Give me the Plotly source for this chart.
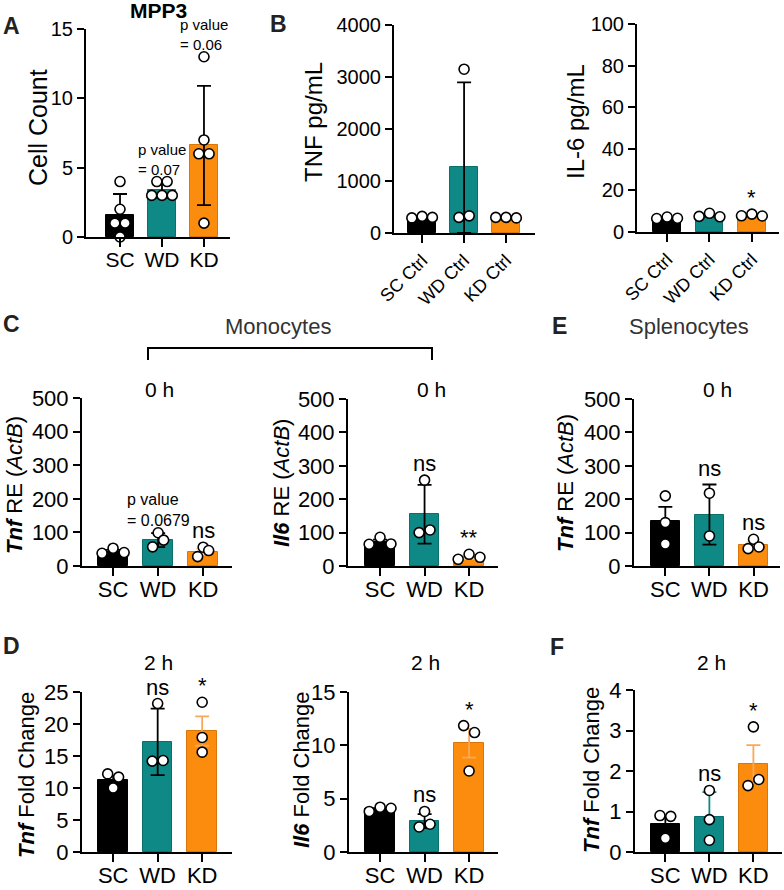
import plotly.graph_objects as go

W, H = 784, 890
FONT = "Arial, Liberation Sans, Helvetica, sans-serif"

GROUPS = ["SC", "WD", "KD"]
CTRL_GROUPS = ["SC Ctrl", "WD Ctrl", "KD Ctrl"]
BAR_COLORS = ["#000000", "#0f8985", "#fb8c0e"]
BAR_EDGES = ["#000000", "#0b6f6c", "#d9760a"]

# A - MPP3 cell count (mean, error, individual animals)
mpp3_mean = [1.6, 3.4, 6.6]
mpp3_err = [1.5, 0.55, 4.3]
mpp3_pts = [[4, 2, 1, 1, 0], [4, 4, 3, 3, 3], [13, 7, 6, 6, 1]]

# B - serum cytokines
tnf_ctrl_mean = [300, 1260, 295]
tnf_ctrl_err = [15, 1637, 8]
tnf_ctrl_pts = [[290, 320, 300], [300, 3150, 330], [300, 300, 290]]

il6_ctrl_mean = [6.8, 7.9, 8.0]
il6_ctrl_err = [0.3, 0.5, 0.3]
il6_ctrl_pts = [[6.5, 7.2, 6.6], [7.5, 9.0, 7.3], [7.8, 8.6, 7.7]]

# C - monocytes 0 h
tnf_mono0_mean = [43, 77, 43]
tnf_mono0_err = [5, 21, 8]
tnf_mono0_pts = [[38, 53, 40], [99, 57, 77], [56, 28, 46]]

il6_mono0_mean = [72, 155, 27]
il6_mono0_err = [7, 88, 5]
il6_mono0_pts = [[65, 86, 66], [100, 257, 108], [20, 35, 26]]

# E - splenocytes 0 h
tnf_spl0_mean = [136, 154, 62]
tnf_spl0_err = [41, 90, 11]
tnf_spl0_pts = [[210, 130, 66], [218, 90], [80, 52, 57]]

# D - monocytes 2 h
tnf_mono2_mean = [11.3, 17.2, 18.9]
tnf_mono2_err = [0.6, 5.2, 2.3]
tnf_mono2_pts = [[12.2, 10.0, 11.7], [14.2, 23.2, 14.3], [23.4, 17.9, 15.6]]

il6_mono2_mean = [4.0, 2.9, 10.2]
il6_mono2_err = [0.1, 0.65, 1.35]
il6_mono2_pts = [[3.8, 4.2, 4.1], [2.35, 3.8, 2.6], [11.85, 7.6, 11.2]]

# F - splenocytes 2 h
tnf_spl2_mean = [0.70, 0.86, 2.17]
tnf_spl2_err = [0.2, 0.62, 0.47]
tnf_spl2_pts = [[0.9, 0.34, 0.88], [0.29, 0.8, 1.52], [1.64, 3.09, 1.79]]

PANELS = [
    dict(mean=mpp3_mean, err=mpp3_err, pts=mpp3_pts, labels=GROUPS,
         xpx=(86, 230), ypx=(29, 237), ymax=15, dtick=5, xr=(-0.81, 2.62),
         tick_size=20, xtick_size=21, angle=0, err_colors=["#000", "#000", "#000"],
         sig=[None, "p value<br>= 0.07", "p value<br>= 0.06"], sig_size=22, p_size=15,
         ytitle="Cell Count", ytitle_xy=(38, 128), ytitle_size=25),
    dict(mean=tnf_ctrl_mean, err=tnf_ctrl_err, pts=tnf_ctrl_pts, labels=CTRL_GROUPS,
         xpx=(394, 535), ypx=(25, 233), ymax=4000, dtick=1000, xr=(-0.67, 2.69),
         tick_size=20, xtick_size=18, angle=-45, err_colors=["#000", "#000", "#000"],
         sig=[None, None, None], sig_size=22, p_size=15,
         ytitle="TNF pg/mL", ytitle_xy=(314, 122), ytitle_size=24),
    dict(mean=il6_ctrl_mean, err=il6_ctrl_err, pts=il6_ctrl_pts, labels=CTRL_GROUPS,
         xpx=(637, 779), ypx=(24, 232), ymax=100, dtick=20, xr=(-0.71, 2.64),
         tick_size=20, xtick_size=18, angle=-45, err_colors=["#000", "#000", "#000"],
         sig=[None, None, "*"], sig_size=22, p_size=15,
         ytitle="IL-6 pg/mL", ytitle_xy=(576, 122), ytitle_size=24),
    dict(mean=tnf_mono0_mean, err=tnf_mono0_err, pts=tnf_mono0_pts, labels=GROUPS,
         xpx=(82, 232), ypx=(398, 566), ymax=500, dtick=100, xr=(-0.69, 2.64),
         tick_size=22, xtick_size=22, angle=0, err_colors=["#000", "#000", "#ffd9b0"],
         sig=[None, "p value<br>= 0.0679", "ns"], sig_size=22, p_size=16,
         ytitle="<b><i>Tnf</i></b> RE (<i>ActB</i>)", ytitle_xy=(14, 485), ytitle_size=22),
    dict(mean=il6_mono0_mean, err=il6_mono0_err, pts=il6_mono0_pts, labels=GROUPS,
         xpx=(348, 498), ypx=(399, 566), ymax=500, dtick=100, xr=(-0.72, 2.65),
         tick_size=22, xtick_size=22, angle=0, err_colors=["#000", "#000", "#ffd9b0"],
         sig=[None, "ns", "**"], sig_size=22, p_size=16,
         ytitle="<b><i>Il6</i></b> RE (<i>ActB</i>)", ytitle_xy=(281, 483), ytitle_size=22),
    dict(mean=tnf_spl0_mean, err=tnf_spl0_err, pts=tnf_spl0_pts, labels=GROUPS,
         xpx=(634, 780), ypx=(399, 566), ymax=500, dtick=100, xr=(-0.71, 2.6),
         tick_size=22, xtick_size=22, angle=0, err_colors=["#000", "#000", "#ffd9b0"],
         sig=[None, "ns", "ns"], sig_size=22, p_size=16,
         ytitle="<b><i>Tnf</i></b> RE (<i>ActB</i>)", ytitle_xy=(565, 483), ytitle_size=22),
    dict(mean=tnf_mono2_mean, err=tnf_mono2_err, pts=tnf_mono2_pts, labels=GROUPS,
         xpx=(82, 232), ypx=(692, 852), ymax=25, dtick=5, xr=(-0.7, 2.67),
         tick_size=22, xtick_size=22, angle=0, err_colors=["#000", "#000", "#f9a85a"],
         sig=[None, "ns", "*"], sig_size=22, p_size=16,
         ytitle="<b><i>Tnf</i></b> Fold Change", ytitle_xy=(26, 775), ytitle_size=22),
    dict(mean=il6_mono2_mean, err=il6_mono2_err, pts=il6_mono2_pts, labels=GROUPS,
         xpx=(349, 498), ypx=(692, 852), ymax=15, dtick=5, xr=(-0.7, 2.65),
         tick_size=22, xtick_size=22, angle=0, err_colors=["#000", "#000", "#f9a85a"],
         sig=[None, "ns", "*"], sig_size=22, p_size=16,
         ytitle="<b><i>Il6</i></b> Fold Change", ytitle_xy=(301, 770), ytitle_size=22),
    dict(mean=tnf_spl2_mean, err=tnf_spl2_err, pts=tnf_spl2_pts, labels=GROUPS,
         xpx=(635, 782), ypx=(690, 852), ymax=4, dtick=1, xr=(-0.69, 2.65),
         tick_size=22, xtick_size=22, angle=0, err_colors=["#000", "#0f8985", "#f9a85a"],
         sig=[None, "ns", "*"], sig_size=22, p_size=16,
         ytitle="<b><i>Tnf</i></b> Fold Change", ytitle_xy=(591, 770), ytitle_size=22),
]

# free text: (text, x px, y px, size, bold, color)
LABELS = [
    ("A", 11, 26, 23, True, "#222"), ("B", 278, 24, 23, True, "#222"),
    ("C", 11, 324, 23, True, "#222"), ("E", 559, 326, 23, True, "#222"),
    ("D", 11, 646, 23, True, "#222"), ("F", 557, 647, 23, True, "#222"),
    ("MPP3", 158, 11, 21, True, "#000"),
    ("Monocytes", 278, 326, 22, False, "#333"),
    ("Splenocytes", 689, 326, 22, False, "#333"),
    ("0 h", 159, 390, 21, False, "#000"), ("0 h", 432, 390, 21, False, "#000"),
    ("0 h", 717, 390, 21, False, "#000"),
    ("2 h", 158, 662, 21, False, "#000"), ("2 h", 425, 662, 21, False, "#000"),
    ("2 h", 711, 662, 21, False, "#000"),
]


def px_x(v):
    return v / W


def px_y(v):
    return 1 - v / H


def swarm(vals, px_per_unit, spacing=0.245, diam=9):
    """Spread points that would overlap side by side, keeping the list order."""
    order = sorted(range(len(vals)), key=lambda k: vals[k])
    clusters, cur = [], [order[0]]
    for k in order[1:]:
        if (vals[k] - vals[cur[0]]) * px_per_unit < diam:
            cur.append(k)
        else:
            clusters.append(cur)
            cur = [k]
    clusters.append(cur)
    offs = [0.0] * len(vals)
    for c in clusters:
        c = sorted(c)
        for j, k in enumerate(c):
            offs[k] = (j - (len(c) - 1) / 2) * spacing
    return offs


fig = go.Figure()
annotations = []

for i, p in enumerate(PANELS, start=1):
    xa = "x" if i == 1 else f"x{i}"
    ya = "y" if i == 1 else f"y{i}"
    px_per_unit = (p["ypx"][1] - p["ypx"][0]) / p["ymax"]

    for g in range(3):
        m, e = p["mean"][g], p["err"][g]
        fig.add_trace(go.Bar(
            x=[g], y=[m], width=0.66, xaxis=xa, yaxis=ya,
            marker=dict(color=BAR_COLORS[g], line=dict(color=BAR_EDGES[g], width=1)),
            error_y=dict(type="data", array=[e], arrayminus=[min(e, m)],
                         color=p["err_colors"][g], thickness=1.8, width=7),
            showlegend=False, hoverinfo="skip",
        ))
        vals = p["pts"][g]
        offs = swarm(vals, px_per_unit)
        fig.add_trace(go.Scatter(
            x=[g + o for o in offs], y=vals, mode="markers", xaxis=xa, yaxis=ya,
            marker=dict(size=10, color="white", line=dict(color="black", width=1.6)),
            cliponaxis=False, showlegend=False, hoverinfo="skip",
        ))
        label = p["sig"][g]
        if label:
            top = max(max(vals), m + e)
            size = p["p_size"] if label.startswith("p value") else p["sig_size"]
            annotations.append(dict(
                x=g, y=top, xref=xa, yref=ya, text=label, showarrow=False,
                yanchor="bottom", yshift=2, align="left",
                font=dict(family=FONT, size=size, color="black"),
            ))

    axis_common = dict(showline=True, linewidth=2, linecolor="black", ticks="outside",
                       tickwidth=2, tickcolor="black", showgrid=False, zeroline=False,
                       automargin=False)
    fig.layout[f"xaxis{'' if i == 1 else i}"] = dict(
        axis_common, domain=[px_x(p["xpx"][0]), px_x(p["xpx"][1])], anchor=ya,
        range=list(p["xr"]), tickvals=[0, 1, 2], ticktext=p["labels"], ticklen=8,
        ticklabelstandoff=-5 if p["angle"] == 0 else 0,
        tickangle=p["angle"], tickfont=dict(family=FONT, size=p["xtick_size"], color="black"),
    )
    fig.layout[f"yaxis{'' if i == 1 else i}"] = dict(
        axis_common, domain=[px_y(p["ypx"][1]), px_y(p["ypx"][0])], anchor=xa,
        range=[0, p["ymax"]], dtick=p["dtick"], tick0=0, ticklen=7,
        tickfont=dict(family=FONT, size=p["tick_size"], color="black"),
    )
    tx, ty = p["ytitle_xy"]
    annotations.append(dict(
        x=px_x(tx), y=px_y(ty), xref="paper", yref="paper", text=p["ytitle"],
        textangle=-90, showarrow=False, xanchor="center", yanchor="middle",
        font=dict(family=FONT, size=p["ytitle_size"], color="black"),
    ))

for text, x, y, size, bold, color in LABELS:
    annotations.append(dict(
        x=px_x(x), y=px_y(y), xref="paper", yref="paper",
        text=f"<b>{text}</b>" if bold else text, showarrow=False,
        xanchor="center", yanchor="middle", font=dict(family=FONT, size=size, color=color),
    ))

# bracket over the two monocyte panels
fig.add_shape(
    type="path", xref="paper", yref="paper",
    path=(f"M {px_x(148)} {px_y(360)} L {px_x(148)} {px_y(348)} "
          f"L {px_x(432)} {px_y(348)} L {px_x(432)} {px_y(360)}"),
    line=dict(color="black", width=2),
)

fig.update_layout(
    width=W, height=H, margin=dict(l=0, r=0, t=0, b=0, autoexpand=False),
    paper_bgcolor="white", plot_bgcolor="white",
    annotations=annotations, bargap=0, font=dict(family=FONT, color="black"),
)

# the page body has a default 8px margin; drop it so the figure fills the window
fig.write_html("out.html", config={"displayModeBar": False},
               post_script="document.body.style.margin='0';")
